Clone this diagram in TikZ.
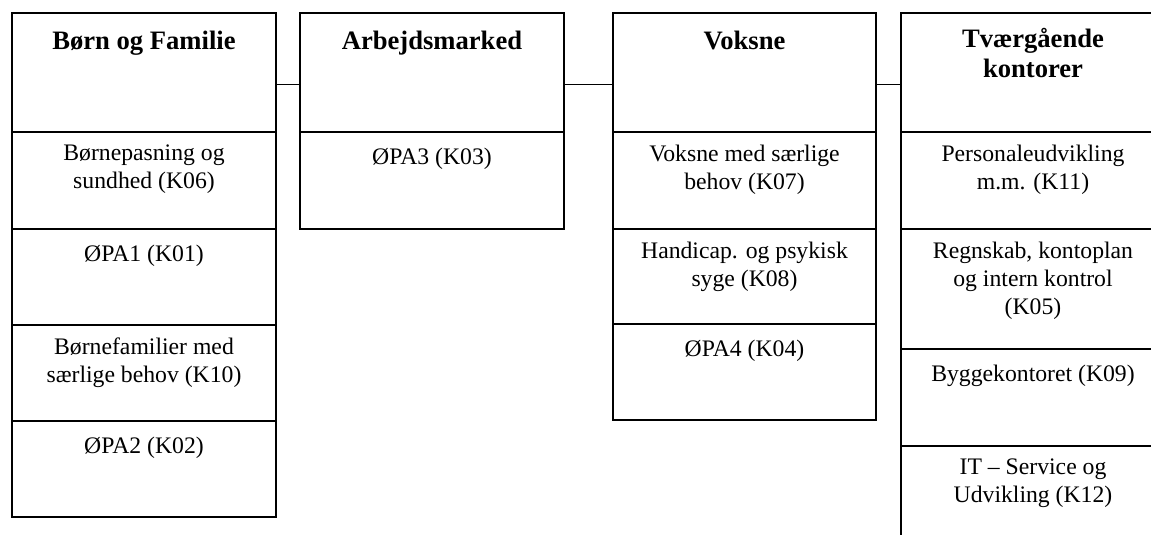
\documentclass[tikz,border=0pt]{standalone}
\usepackage{fontspec}
\setmainfont{Liberation Serif}
\begin{document}
\begin{tikzpicture}[x=1pt,y=-1pt,
  cell/.style={draw=black, line width=1.6pt, rectangle, inner sep=0pt, outer sep=0pt, anchor=north west, minimum width=264pt},
  head/.style={anchor=north, yshift=-15.3pt, inner sep=0pt, align=center, font=\fontsize{26.6}{29.5}\selectfont\bfseries, execute at begin node=\strut},
  body/.style={anchor=north, yshift=-12.4pt, inner sep=0pt, align=center, font=\fontsize{23.7}{28}\selectfont, execute at begin node=\strut},
  link/.style={draw=black, line width=1.6pt}
]
\useasboundingbox (0,0) rectangle (1151,535);
\clip (0,0) rectangle (1151,535);

% column 1
\node[cell, minimum height=119pt] (c1h) at (12,13) {};
\node[cell, minimum height=97pt] (c1a) at (12,132) {};
\node[cell, minimum height=96pt] (c1b) at (12,229) {};
\node[cell, minimum height=96pt] (c1c) at (12,325) {};
\node[cell, minimum height=96pt] (c1d) at (12,421) {};
\node[head] (t1h) at (c1h.north) {Børn og Familie};
\node[body] (t1a) at (c1a.north) {Børnepasning og\\sundhed (K06)};
\node[body] (t1b) at (c1b.north) {ØPA1 (K01)};
\node[body] (t1c) at (c1c.north) {Børnefamilier med\\særlige behov (K10)};
\node[body] (t1d) at (c1d.north) {ØPA2 (K02)};

% column 2
\node[cell, minimum height=119pt] (c2h) at (300,13) {};
\node[cell, minimum height=97pt] (c2a) at (300,132) {};
\node[head] (t2h) at (c2h.north) {Arbejdsmarked};
\node[body] (t2a) at (c2a.north) {ØPA3 (K03)};

% column 3
\node[cell, minimum width=263pt, minimum height=119pt] (c3h) at (613,13) {};
\node[cell, minimum width=263pt, minimum height=97pt] (c3a) at (613,132) {};
\node[cell, minimum width=263pt, minimum height=95pt] (c3b) at (613,229) {};
\node[cell, minimum width=263pt, minimum height=96pt] (c3c) at (613,324) {};
\node[head] (t3h) at (c3h.north) {Voksne};
\node[body] (t3a) at (c3a.north) {Voksne med særlige\\behov (K07)};
\node[body] (t3b) at (c3b.north) {Handicap. og psykisk\\syge (K08)};
\node[body] (t3c) at (c3c.north) {ØPA4 (K04)};

% column 4
\node[cell, minimum height=119pt] (c4h) at (901,13) {};
\node[cell, minimum height=97pt] (c4a) at (901,132) {};
\node[cell, minimum height=120pt] (c4b) at (901,229) {};
\node[cell, minimum height=97pt] (c4c) at (901,349) {};
\node[cell, minimum height=120pt] (c4d) at (901,446) {};
\node[head] (t4h) at (c4h.north) {Tværgående\\kontorer};
\node[body] (t4a) at (c4a.north) {Personaleudvikling\\m.m. (K11)};
\node[body] (t4b) at (c4b.north) {Regnskab, kontoplan\\og intern kontrol\\(K05)};
\node[body] (t4c) at (c4c.north) {Byggekontoret (K09)};
\node[body] (t4d) at (c4d.north) {IT – Service og\\Udvikling (K12)};

% connectors
\draw[link] ([yshift=-12pt]c1h.east) -- ([yshift=-12pt]c2h.west);
\draw[link] ([yshift=-12pt]c2h.east) -- ([yshift=-12pt]c3h.west);
\draw[link] ([yshift=-12pt]c3h.east) -- ([yshift=-12pt]c4h.west);
\end{tikzpicture}
\end{document}
